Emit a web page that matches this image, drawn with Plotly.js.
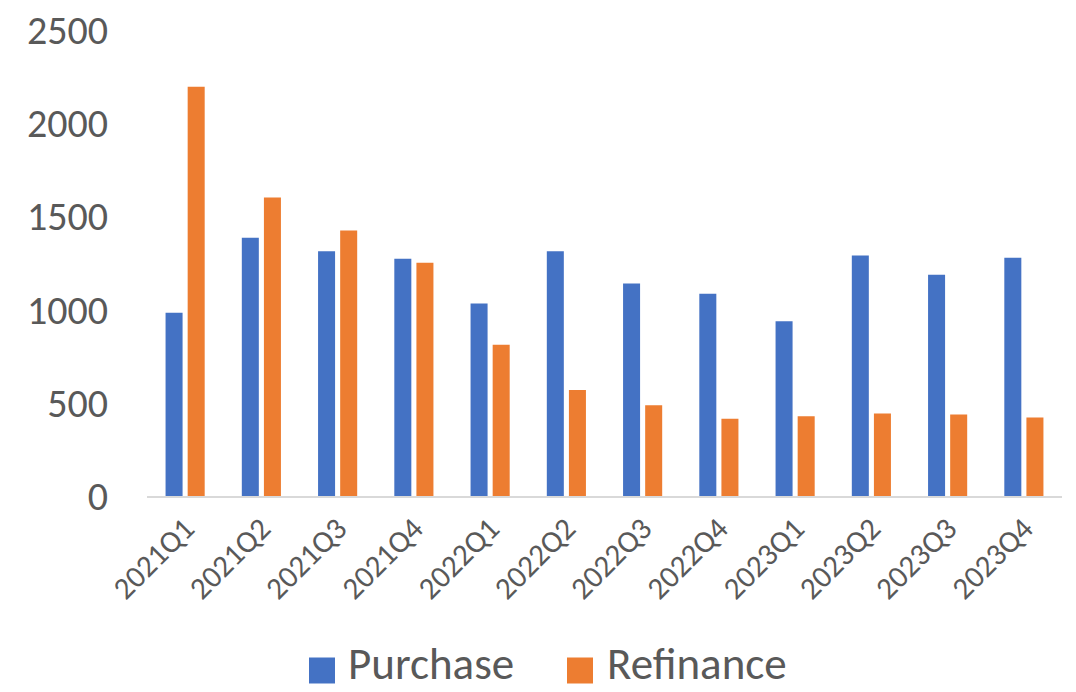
<!DOCTYPE html>
<html>
<head>
<meta charset="utf-8">
<script src="https://cdn.plot.ly/plotly-3.0.1.min.js"></script>
<style>html,body{margin:0;padding:0;background:#fff;}#chart{width:1076px;height:692px;}</style>
</head>
<body>
<div id="chart"></div>
<script>
const categories = ["2021Q1","2021Q2","2021Q3","2021Q4","2022Q1","2022Q2","2022Q3","2022Q4","2023Q1","2023Q2","2023Q3","2023Q4"];
const purchase = [983, 1385, 1313, 1273, 1033, 1313, 1140, 1085, 938, 1290, 1187, 1278];
const refinance = [2195, 1601, 1424, 1251, 811, 568, 487, 414, 428, 443, 437, 421];
const seriesNames = ["Purchase", "Refinance"];
const colors = ["#4472C4", "#ED7D31"];
const yTicks = [0, 500, 1000, 1500, 2000, 2500];

const fontFam = "Carlito, Lato, 'Open Sans', sans-serif";
const textColor = "#595959";

const traces = [purchase, refinance].map((vals, i) => ({
  type: "bar",
  name: seriesNames[i],
  x: categories,
  y: vals,
  marker: {color: colors[i]},
  hoverinfo: "x+y+name"
}));

// manual legend (large squares like the original)
const L = 147, W = 915, B = 496.5, H = 466;
const px = v => (v - L) / W;
const py = v => (B - v) / H;
const legendItems = [
  {sq: [309, 335], tx: 346},
  {sq: [567, 593], tx: 605}
];
const shapes = legendItems.map((it, i) => ({
  type: "rect", xref: "paper", yref: "paper",
  x0: px(it.sq[0]), x1: px(it.sq[1]), y0: py(684), y1: py(658),
  fillcolor: colors[i], line: {width: 0}
}));
const annotations = legendItems.map((it, i) => ({
  xref: "paper", yref: "paper", x: px(it.tx), y: py(664),
  xanchor: "left", yanchor: "middle", showarrow: false,
  text: seriesNames[i],
  font: {family: fontFam, size: 45, color: textColor}
}));

const layout = {
  width: 1076, height: 692,
  margin: {l: 147, r: 14, t: 30, b: 195.5},
  paper_bgcolor: "#ffffff", plot_bgcolor: "#ffffff",
  barmode: "group", bargap: 0.42, bargroupgap: 0.23,
  showlegend: false,
  font: {family: fontFam, color: textColor},
  xaxis: {
    type: "category",
    tickangle: -45,
    tickfont: {family: fontFam, size: 31, color: textColor},
    showline: true, linecolor: "#d9d9d9", linewidth: 2,
    showgrid: false, zeroline: false, ticks: ""
  },
  yaxis: {
    range: [0, 2500],
    tickvals: yTicks,
    ticktext: yTicks.map(String),
    tickfont: {family: fontFam, size: 40, color: textColor},
    showgrid: false, zeroline: false, showline: false, ticks: "",
    ticklabelstandoff: 38
  },
  shapes: shapes,
  annotations: annotations
};

Plotly.newPlot("chart", traces, layout, {displayModeBar: false, staticPlot: true});
</script>
</body>
</html>
